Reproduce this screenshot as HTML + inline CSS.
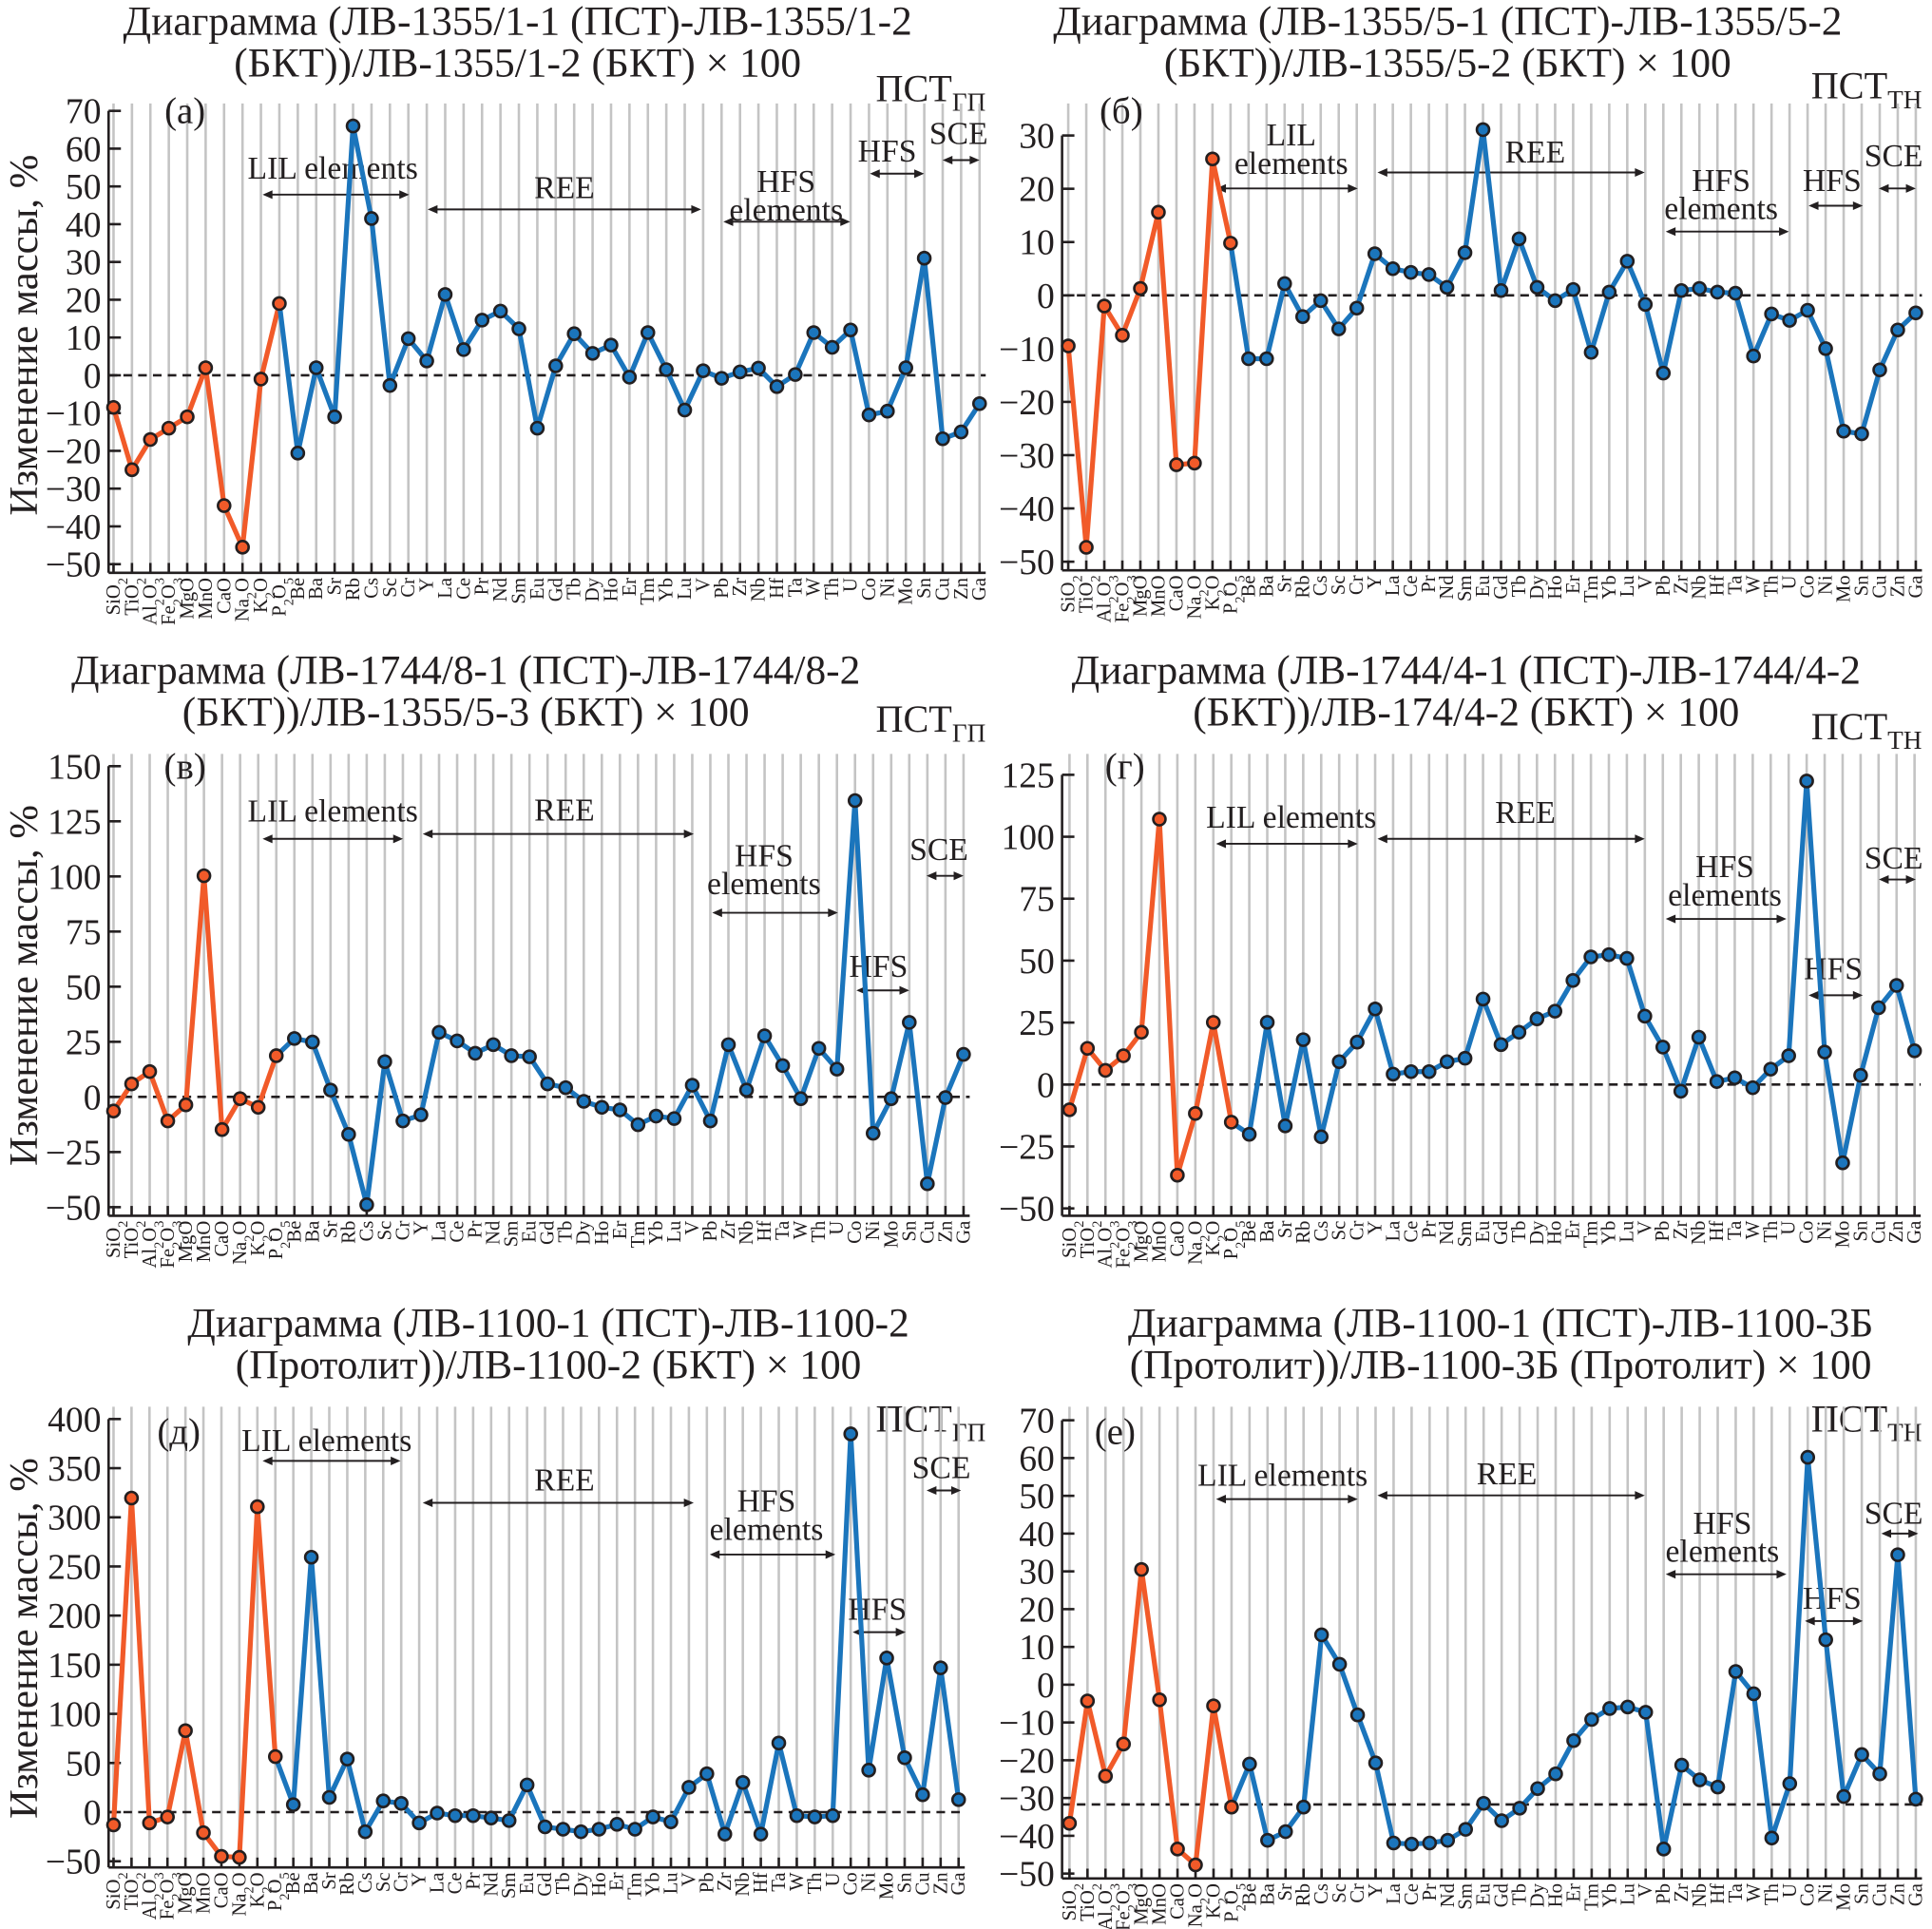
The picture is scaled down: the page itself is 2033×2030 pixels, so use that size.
<!DOCTYPE html>
<html><head><meta charset="utf-8"><style>
html,body{margin:0;padding:0;background:#fff;}
svg{display:block;font-family:"Liberation Serif","Noto Serif CJK SC",serif;}
</style></head><body>
<svg id="fig" width="2033" height="2030" viewBox="0 0 1568 1566" xmlns="http://www.w3.org/2000/svg"></svg>
<script>
const categories = ["SiO2","TiO2","Al2O3","Fe2O3","MgO","MnO","CaO","Na2O","K2O","P2O5","Be","Ba","Sr","Rb","Cs","Sc","Cr","Y","La","Ce","Pr","Nd","Sm","Eu","Gd","Tb","Dy","Ho","Er","Tm","Yb","Lu","V","Pb","Zr","Nb","Hf","Ta","W","Th","U","Co","Ni","Mo","Sn","Cu","Zn","Ga"];
const valuesA = [-8.5,-25,-17,-14,-11,2,-34.5,-45.5,-1,19,-20.6,2,-11,66,41.5,-2.7,9.7,3.8,21.4,6.8,14.6,17,12.3,-14,2.5,11,5.8,8,-0.5,11.3,1.5,-9.2,1.2,-0.8,0.9,1.9,-3,0.2,11.3,7.4,12,-10.5,-9.5,2,31,-16.8,-15,-7.5];
const valuesB = [-9.5,-47.3,-2,-7.5,1.3,15.6,-31.8,-31.5,25.6,9.8,-11.9,-11.9,2.2,-4,-1,-6.3,-2.4,7.8,5,4.3,3.9,1.5,8,31.1,0.9,10.6,1.5,-1,1.1,-10.7,0.6,6.4,-1.7,-14.6,0.9,1.3,0.6,0.4,-11.4,-3.5,-4.7,-2.8,-10,-25.5,-26,-14,-6.5,-3.3];
const valuesV = [-6.4,5.9,11.5,-10.9,-3.6,100.3,-14.8,-0.8,-4.7,18.7,26.5,24.9,3.1,-17,-48.9,16,-10.9,-8.1,29.3,25.4,19.8,23.7,18.7,18.2,5.9,4.2,-2,-4.7,-5.9,-12.6,-8.7,-9.8,5.3,-10.9,23.7,3.1,27.7,14.2,-0.8,22,12.6,134.4,-16.5,-0.8,33.8,-39.4,-0.3,19.3];
const valuesG = [-10.2,14.6,5.7,11.6,21.1,107.1,-36.6,-11.7,25.1,-15.2,-20.1,25.1,-16.7,18.1,-21.1,9.2,17.1,30.5,4.2,5.2,5.2,9.2,10.6,34.5,16.1,21.1,26.5,29.6,42,51.5,52.4,50.9,27.6,15.1,-2.7,19.1,1.2,2.7,-1.3,6.2,11.6,122.5,13.1,-31.6,3.7,31,40,13.6];
const valuesD = [-13,319.6,-11,-5,82.9,-21,-45,-46,310.8,56.5,7.6,259.4,15,54,-20,11.4,8.9,-11,-1,-3.6,-3.6,-6,-8.6,27.7,-15,-17.4,-20,-17.4,-12.4,-17.4,-4.9,-9.9,25.2,39,-22.4,30.2,-22.4,70.3,-3.6,-4.9,-3.6,384.9,42.7,156.8,55.3,17.7,146.8,12.7];
const valuesE = [-36.7,-4.3,-24.2,-15.7,30.5,-4,-43.5,-47.7,-5.6,-32.4,-21,-41.2,-38.9,-32.4,13.2,5.4,-8,-20.7,-41.9,-42.2,-41.9,-41.2,-38.3,-31.4,-36,-32.7,-27.5,-23.6,-14.8,-9.2,-6.3,-5.9,-7.3,-43.5,-21.3,-25.2,-27.1,3.5,-2.4,-40.6,-26.2,60.2,11.9,-29.6,-18.5,-23.6,34.4,-30.3];
const ticksA = [-50,-40,-30,-20,-10,0,10,20,30,40,50,60,70];
const ticksB = [-50,-40,-30,-20,-10,0,10,20,30];
const ticksV = [-50,-25,0,25,50,75,100,125,150];
const ticksG = [-50,-25,0,25,50,75,100,125];
const ticksD = [-50,0,50,100,150,200,250,300,350,400];
const ticksE = [-50,-40,-30,-20,-10,0,10,20,30,40,50,60,70];
const refLineE = -31.7;

const NS="http://www.w3.org/2000/svg";
const svg=document.getElementById('fig');
function mk(tag,attrs,parent){const e=document.createElementNS(NS,tag);for(const k in attrs)e.setAttribute(k,attrs[k]);(parent||svg).appendChild(e);return e;}
const ORANGE="#f15a29", BLUE="#1b75bc";

function formula(t,s){
  const parts=s.match(/[A-Za-z]+|\d+/g);
  parts.forEach(p=>{
    const ts=document.createElementNS(NS,'tspan');
    ts.textContent=p;
    if(/^\d+$/.test(p)){ts.setAttribute('baseline-shift','sub');ts.setAttribute('font-size','11');}
    t.appendChild(ts);
  });
}

function panel(cfg){
  const g=mk('g',{});
  
  
  const n=categories.length;
  const xs=i=>cfg.x0+(cfg.x1-cfg.x0)*i/(n-1);
  const ys=v=>cfg.yMaxPx+(cfg.yMax-v)*(cfg.yMinPx-cfg.yMaxPx)/(cfg.yMax-cfg.yMin);
  cfg.title.forEach((ln,k)=>{
    const t=mk('text',{x:cfg.tcx,y:cfg.ty+k*34,'text-anchor':'middle','font-size':33.5,fill:'#231f20'},g);
    t.textContent=ln;
    
    
  });
  const p=mk('text',{x:cfg.pstX,y:cfg.pstY,'text-anchor':'end','font-size':31,fill:'#231f20'},g);
  
  
  const p1=document.createElementNS(NS,'tspan');p1.textContent='ПСТ';p.appendChild(p1);
  const p2=document.createElementNS(NS,'tspan');p2.textContent=cfg.pstSub;p2.setAttribute('font-size','21');p2.setAttribute('dy','8');p.appendChild(p2);
  for(let i=0;i<n;i++){
    const l=mk('line',{x1:xs(i),x2:xs(i),y1:cfg.top,y2:cfg.bottom,stroke:'#c4c4c4','stroke-width':2},g);
    
    
  }
  const ax=mk('line',{x1:cfg.axisX,x2:cfg.axisX,y1:cfg.yMaxPx,y2:cfg.bottom,stroke:'#231f20','stroke-width':2},g);
  
  
  const bx=mk('line',{x1:cfg.axisX,x2:cfg.x1+5,y1:cfg.bottom,y2:cfg.bottom,stroke:'#231f20','stroke-width':2},g);
  
  
  for(let i=0;i<n;i++){
    const tk=mk('line',{x1:xs(i),x2:xs(i),y1:cfg.bottom,y2:cfg.bottom-8,stroke:'#231f20','stroke-width':2},g);
    
    
    const t=mk('text',{x:0,y:0,'text-anchor':'end','font-size':16,fill:'#231f20',transform:`translate(${xs(i)+5},${cfg.bottom+4}) rotate(-90)`},g);
    formula(t,categories[i]);
    
    
  }
  cfg.ticks.forEach(v=>{
    const y=ys(v);
    const tk=mk('line',{x1:cfg.axisX,x2:cfg.axisX+10,y1:y,y2:y,stroke:'#231f20','stroke-width':2},g);
    
    
    const t=mk('text',{x:cfg.axisX-6,y:y+10,'text-anchor':'end','font-size':29,fill:'#231f20'},g);
    t.textContent=v<0?'\u2212'+Math.abs(v):String(v);
    
    
  });
  const dy=ys(cfg.ref);
  const dl=mk('line',{x1:cfg.axisX,x2:cfg.x1+5,y1:dy,y2:dy,stroke:'#231f20','stroke-width':2,'stroke-dasharray':'7,5'},g);
  
  
  const lt=mk('text',{x:cfg.letX,y:cfg.letY,'text-anchor':'middle','font-size':30,fill:'#231f20'},g);
  lt.textContent=cfg.letter;
  
  
  cfg.ann.forEach(a=>{
    a.lines.forEach((s,k)=>{
      const t=mk('text',{x:a.tx,y:a.ty+k*23,'text-anchor':'middle','font-size':26,fill:'#231f20'},g);
      t.textContent=s;
      
      
    });
    const l=mk('line',{x1:a.a1+2,x2:a.a2-2,y1:a.ay,y2:a.ay,stroke:'#231f20','stroke-width':1.5},g);
    
    
    mk('path',{d:`M${a.a1},${a.ay} l8,-3.5 l0,7 z M${a.a2},${a.ay} l-8,-3.5 l0,7 z`,fill:'#231f20'},g);
  });
  const vals=cfg.values;
  for(let i=0;i<n-1;i++){
    const seg=mk('line',{x1:xs(i),y1:ys(vals[i]),x2:xs(i+1),y2:ys(vals[i+1]),stroke:i<9?ORANGE:BLUE,'stroke-width':4,'stroke-linecap':'round'},g);
    
    
  }
  for(let i=0;i<n;i++){
    const c=mk('circle',{cx:xs(i),cy:ys(vals[i]),r:5,fill:i<10?ORANGE:BLUE,stroke:'#231f20','stroke-width':2},g);
    
    
  }
  if(cfg.yTitle){
    const t=mk('text',{x:0,y:0,'text-anchor':'middle','font-size':33,fill:'#231f20',transform:`translate(30,${cfg.yTitleY}) rotate(-90)`},g);
    t.textContent='Изменение массы, %';
    
    
  }
}

panel({id:'a',values:valuesA,ticks:ticksA,ref:0,axisX:88,x0:92,x1:795,yMin:-50,yMinPx:458,yMax:70,yMaxPx:90,top:84,bottom:465,
 title:['Диаграмма (ЛВ-1355/1-1 (ПСТ)-ЛВ-1355/1-2','(БКТ))/ЛВ-1355/1-2 (БКТ) × 100'],tcx:420,ty:28,pstX:800,pstY:82,pstSub:'ГП',letter:'(а)',letX:150,letY:100,yTitle:true,yTitleY:272,
 ann:[{lines:['LIL elements'],tx:270,ty:145,a1:213,a2:332,ay:158},{lines:['REE'],tx:458,ty:161,a1:347,a2:569,ay:170},{lines:['HFS','elements'],tx:638,ty:156,a1:587,a2:690,ay:180},{lines:['HFS'],tx:720,ty:131,a1:706,a2:750,ay:141},{lines:['SCE'],tx:778,ty:117,a1:765,a2:795,ay:130}]});
panel({id:'b',values:valuesB,ticks:ticksB,ref:0,axisX:862,x0:867,x1:1555,yMin:-50,yMinPx:456,yMax:30,yMaxPx:110,top:84,bottom:463,
 title:['Диаграмма (ЛВ-1355/5-1 (ПСТ)-ЛВ-1355/5-2','(БКТ))/ЛВ-1355/5-2 (БКТ) × 100'],tcx:1175,ty:28,pstX:1560,pstY:80,pstSub:'ТН',letter:'(б)',letX:910,letY:100,yTitle:false,
 ann:[{lines:['LIL','elements'],tx:1048,ty:118,a1:987,a2:1102,ay:153},{lines:['REE'],tx:1246,ty:132,a1:1118,a2:1335,ay:140},{lines:['HFS','elements'],tx:1397,ty:155,a1:1352,a2:1452,ay:188},{lines:['HFS'],tx:1487,ty:155,a1:1468,a2:1512,ay:167},{lines:['SCE'],tx:1537,ty:135,a1:1525,a2:1555,ay:153}]});
panel({id:'v',values:valuesV,ticks:ticksV,ref:0,axisX:88,x0:92,x1:782,yMin:-50,yMinPx:980,yMax:150,yMaxPx:622,top:612,bottom:987,
 title:['Диаграмма (ЛВ-1744/8-1 (ПСТ)-ЛВ-1744/8-2','(БКТ))/ЛВ-1355/5-3 (БКТ) × 100'],tcx:378,ty:555,pstX:800,pstY:594,pstSub:'ГП',letter:'(в)',letX:150,letY:632,yTitle:true,yTitleY:800,
 ann:[{lines:['LIL elements'],tx:270,ty:667,a1:213,a2:327,ay:681},{lines:['REE'],tx:458,ty:666,a1:343,a2:563,ay:677},{lines:['HFS','elements'],tx:620,ty:703,a1:578,a2:680,ay:741},{lines:['HFS'],tx:713,ty:793,a1:695,a2:738,ay:804},{lines:['SCE'],tx:762,ty:698,a1:752,a2:782,ay:711}]});
panel({id:'g',values:valuesG,ticks:ticksG,ref:0,axisX:862,x0:868,x1:1554,yMin:-50,yMinPx:981,yMax:125,yMaxPx:629,top:612,bottom:987,
 title:['Диаграмма (ЛВ-1744/4-1 (ПСТ)-ЛВ-1744/4-2','(БКТ))/ЛВ-174/4-2 (БКТ) × 100'],tcx:1190,ty:555,pstX:1560,pstY:600,pstSub:'ТН',letter:'(г)',letX:913,letY:632,yTitle:false,
 ann:[{lines:['LIL elements'],tx:1048,ty:672,a1:987,a2:1102,ay:685},{lines:['REE'],tx:1238,ty:668,a1:1118,a2:1335,ay:681},{lines:['HFS','elements'],tx:1400,ty:712,a1:1352,a2:1450,ay:746},{lines:['HFS'],tx:1488,ty:795,a1:1468,a2:1512,ay:808},{lines:['SCE'],tx:1537,ty:705,a1:1525,a2:1555,ay:714}]});
panel({id:'d',values:valuesD,ticks:ticksD,ref:0,axisX:88,x0:92,x1:778,yMin:-50,yMinPx:1511,yMax:400,yMaxPx:1152,top:1142,bottom:1516,
 title:['Диаграмма (ЛВ-1100-1 (ПСТ)-ЛВ-1100-2','(Протолит))/ЛВ-1100-2 (БКТ) × 100'],tcx:445,ty:1085,pstX:800,pstY:1162,pstSub:'ГП',letter:'(д)',letX:145,letY:1172,yTitle:true,yTitleY:1330,
 ann:[{lines:['LIL elements'],tx:265,ty:1178,a1:213,a2:325,ay:1186},{lines:['REE'],tx:458,ty:1210,a1:343,a2:563,ay:1220},{lines:['HFS','elements'],tx:622,ty:1227,a1:576,a2:678,ay:1262},{lines:['HFS'],tx:712,ty:1315,a1:692,a2:735,ay:1325},{lines:['SCE'],tx:764,ty:1200,a1:752,a2:780,ay:1210}]});
panel({id:'e',values:valuesE,ticks:ticksE,ref:refLineE,axisX:862,x0:868,x1:1555,yMin:-50,yMinPx:1521,yMax:70,yMaxPx:1153,top:1142,bottom:1525,
 title:['Диаграмма (ЛВ-1100-1 (ПСТ)-ЛВ-1100-3Б','(Протолит))/ЛВ-1100-3Б (Протолит) × 100'],tcx:1218,ty:1085,pstX:1560,pstY:1162,pstSub:'ТН',letter:'(е)',letX:905,letY:1172,yTitle:false,
 ann:[{lines:['LIL elements'],tx:1041,ty:1206,a1:987,a2:1102,ay:1217},{lines:['REE'],tx:1223,ty:1205,a1:1118,a2:1335,ay:1214},{lines:['HFS','elements'],tx:1398,ty:1245,a1:1352,a2:1450,ay:1278},{lines:['HFS'],tx:1487,ty:1306,a1:1465,a2:1512,ay:1316},{lines:['SCE'],tx:1537,ty:1237,a1:1527,a2:1557,ay:1245}]});
</script>
</body></html>
